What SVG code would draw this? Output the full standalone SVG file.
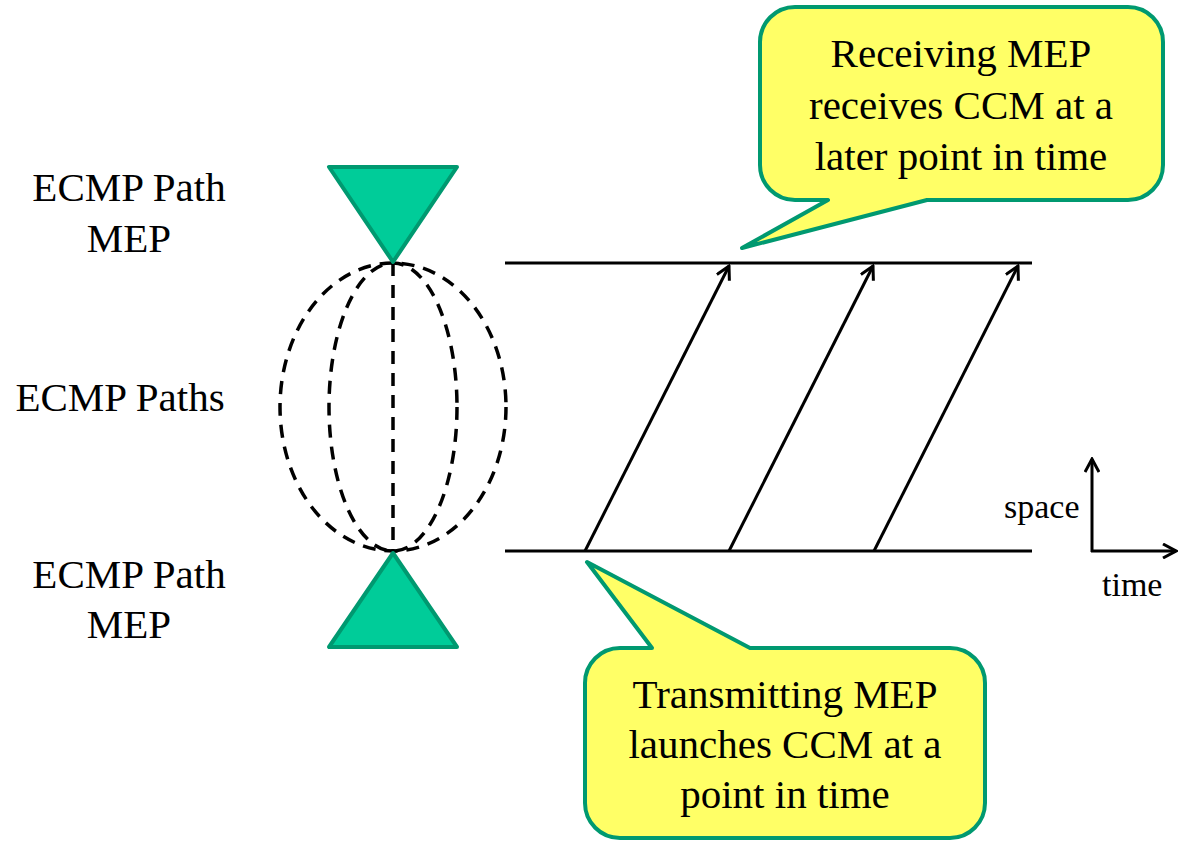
<svg xmlns="http://www.w3.org/2000/svg" width="1178" height="841" viewBox="0 0 1178 841">
<style>
text{font-family:"Liberation Serif",Tinos,"Times New Roman","Nimbus Roman","DejaVu Serif",serif;fill:#000}
.lbl{font-size:41px;text-anchor:middle}
.call{font-size:41px;text-anchor:middle}
.ax{font-size:34px}
.mep{fill:#00cc99;stroke:#009970;stroke-width:4;stroke-linejoin:round}
.bubble{fill:#ffff66;stroke:#009970;stroke-width:4;stroke-linejoin:round}
.dash{fill:none;stroke:#000;stroke-width:3.5;stroke-dasharray:13 9}
.ln{stroke:#000;stroke-width:3;fill:none}
</style>
<defs>
<marker id="open2" viewBox="0 0 16 16" refX="14" refY="8" markerWidth="16" markerHeight="16" markerUnits="userSpaceOnUse" orient="auto">
<path d="M1,1 L14,8 L1,15" fill="none" stroke="#000" stroke-width="3"/>
</marker>
</defs>
<g id="labels">
<text class="lbl" x="129" y="201">ECMP Path</text>
<text class="lbl" x="129" y="252">MEP</text>
<text class="lbl" x="120" y="411">ECMP Paths</text>
<text class="lbl" x="129" y="588">ECMP Path</text>
<text class="lbl" x="129" y="638">MEP</text>
</g>
<g id="ecmp-paths">
<ellipse class="dash" cx="393" cy="407" rx="113" ry="144"/>
<ellipse class="dash" cx="393" cy="407" rx="64" ry="144"/>
<line class="dash" x1="393" y1="263" x2="393" y2="552"/>
</g>
<g id="mep-top"><polygon class="mep" points="329,167 457,167 393,262"/></g>
<g id="mep-bottom"><polygon class="mep" points="329,647 457,647 393,553"/></g>
<g id="connectors">
<line class="ln" x1="505" y1="263" x2="1032" y2="263"/>
<line class="ln" x1="505" y1="551" x2="1032" y2="551"/>
<line class="ln" x1="585" y1="551" x2="729" y2="266" marker-end="url(#open2)"/>
<line class="ln" x1="729" y1="551" x2="873" y2="266" marker-end="url(#open2)"/>
<line class="ln" x1="874" y1="551" x2="1018" y2="266" marker-end="url(#open2)"/>
<line class="ln" x1="1092" y1="552" x2="1092" y2="459" marker-end="url(#open2)"/>
<line class="ln" x1="1091" y1="551" x2="1176" y2="551" marker-end="url(#open2)"/>
</g>
<g id="axis-labels">
<text class="ax" x="1004" y="518">space</text>
<text class="ax" x="1102" y="596">time</text>
</g>
<g id="callout-receive">
<path class="bubble" d="M795,7 H1128 A35,35 0 0 1 1163,42 V165 A35,35 0 0 1 1128,200 H927 L742,248 L828,200 H795 A35,35 0 0 1 760,165 V42 A35,35 0 0 1 795,7 Z"/>
<text class="call" x="961" y="67">Receiving MEP</text>
<text class="call" x="961" y="119">receives CCM at a</text>
<text class="call" x="961" y="170">later point in time</text>
</g>
<g id="callout-transmit">
<path class="bubble" d="M620,648 H652 L587,562 L750,648 H950 A35,35 0 0 1 985,683 V803 A35,35 0 0 1 950,838 H620 A35,35 0 0 1 585,803 V683 A35,35 0 0 1 620,648 Z"/>
<text class="call" x="785" y="708">Transmitting MEP</text>
<text class="call" x="785" y="758">launches CCM at a</text>
<text class="call" x="785" y="808">point in time</text>
</g>
</svg>
